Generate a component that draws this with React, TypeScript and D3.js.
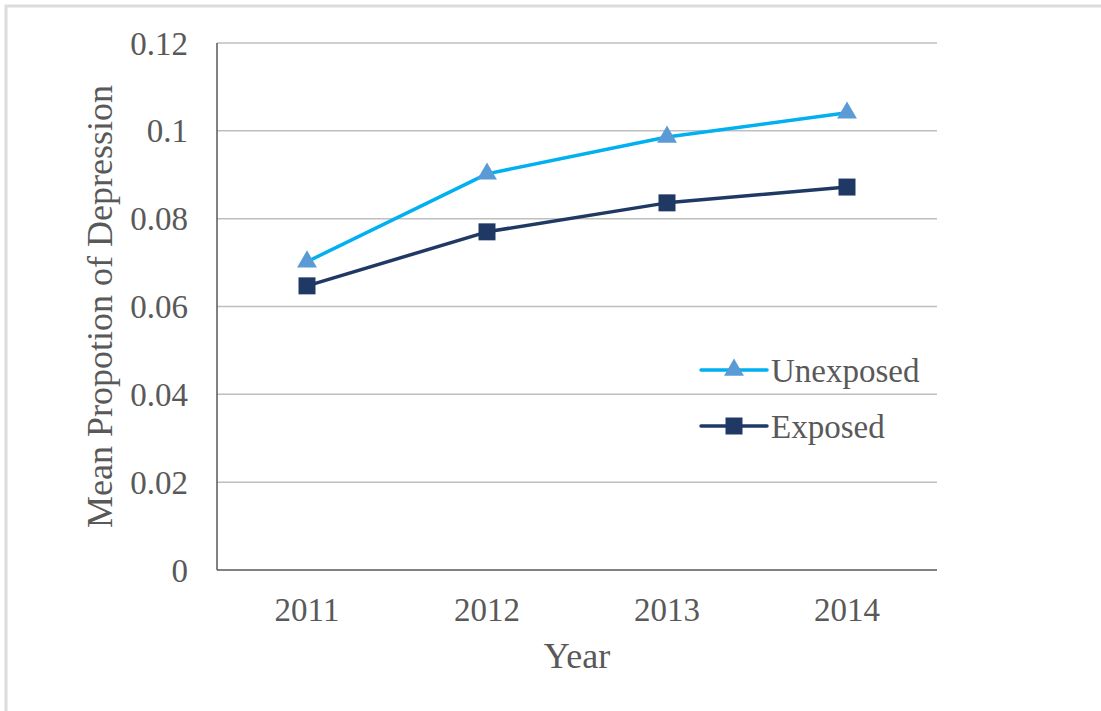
import React from "react";
import * as d3 from "d3";

const years = ["2011", "2012", "2013", "2014"];
const unexposed = [0.0702, 0.0902, 0.0986, 0.1041];
const exposed = [0.0647, 0.077, 0.0836, 0.0872];
const yTicks = [0, 0.02, 0.04, 0.06, 0.08, 0.1, 0.12];
const yTickLabels = ["0", "0.02", "0.04", "0.06", "0.08", "0.1", "0.12"];

const W = 1101, H = 711;
const left = 217, right = 937, top = 43, bottom = 570;
const FONT = "'Liberation Serif', 'Times New Roman', serif";
const TEXT = "#595959";

export default function App() {
  const x = d3.scaleBand<string>().domain(years).range([left, right]);
  const y = d3.scaleLinear().domain([0, 0.12]).range([bottom, top]);
  const cx = (i: number) => (x(years[i]) as number) + x.bandwidth() / 2;
  const line = d3.line<number>().x((_, i) => cx(i)).y((d) => y(d));
  const tri = d3.symbol().type(d3.symbolTriangle).size(170)();
  const sq = (s: number) => `M${-s / 2},${-s / 2}h${s}v${s}h${-s}Z`;

  const series = [
    { name: "Unexposed", data: unexposed, line: "#00b0f0", marker: "#5b9bd5", kind: "tri" },
    { name: "Exposed", data: exposed, line: "#1f3864", marker: "#1f3864", kind: "sq" },
  ];
  const legendY = [370, 426];

  const markerPath = (kind: string) => (kind === "tri" ? (tri as string) : sq(17));

  return (
    <svg width={W} height={H} style={{ position: "absolute", left: 0, top: 0, background: "#fff" }}>
      <rect x={6} y={6} width={W + 20} height={H + 20} fill="#fff" stroke="#dcdcdc" strokeWidth={3} />
      {yTicks.map((t, i) => (
        <g key={t}>
          {i > 0 && <line x1={left} x2={right} y1={y(t)} y2={y(t)} stroke="#bfbfbf" strokeWidth={1.5} />}
          <text x={188} y={y(t)} dy="0.35em" textAnchor="end" fontFamily={FONT} fontSize={33} fill={TEXT}>
            {yTickLabels[i]}
          </text>
        </g>
      ))}
      <line x1={left} x2={left} y1={top} y2={bottom} stroke="#595959" strokeWidth={1.5} />
      <line x1={left} x2={right} y1={bottom} y2={bottom} stroke="#595959" strokeWidth={1.5} />
      {years.map((yr, i) => (
        <text key={yr} x={cx(i)} y={621} textAnchor="middle" fontFamily={FONT} fontSize={33} fill={TEXT}>
          {yr}
        </text>
      ))}
      <text x={(left + right) / 2} y={668} textAnchor="middle" fontFamily={FONT} fontSize={36} fill={TEXT}>
        Year
      </text>
      <text
        transform={`translate(112,${(top + bottom) / 2}) rotate(-90)`}
        textAnchor="middle"
        fontFamily={FONT}
        fontSize={36}
        fill={TEXT}
      >
        Mean Propotion of Depression
      </text>
      {series.map((s) => (
        <g key={s.name}>
          <path d={line(s.data) as string} fill="none" stroke={s.line} strokeWidth={3.5} strokeLinejoin="round" />
          {s.data.map((v, i) => (
            <path key={i} d={markerPath(s.kind)} transform={`translate(${cx(i)},${y(v)})`} fill={s.marker} />
          ))}
        </g>
      ))}
      {series.map((s, i) => (
        <g key={s.name + "-lg"}>
          <line x1={701} x2={767} y1={legendY[i]} y2={legendY[i]} stroke={s.line} strokeWidth={3.5} strokeLinecap="round" />
          <path d={markerPath(s.kind)} transform={`translate(734,${legendY[i]})`} fill={s.marker} />
          <text x={771} y={legendY[i]} dy="0.35em" fontFamily={FONT} fontSize={33} fill={TEXT}>
            {s.name}
          </text>
        </g>
      ))}
    </svg>
  );
}
